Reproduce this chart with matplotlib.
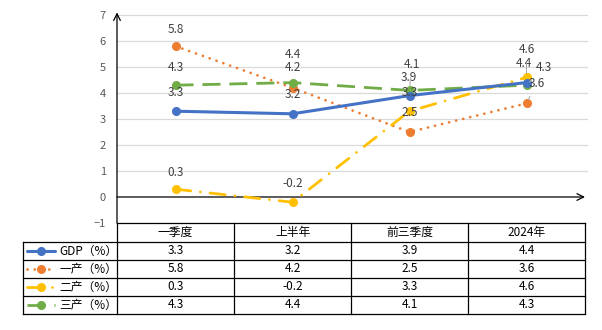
import matplotlib.pyplot as plt
from matplotlib.lines import Line2D

plt.rcParams['font.family'] = ['Noto Sans CJK SC', 'DejaVu Sans']

periods = ['一季度', '上半年', '前三季度', '2024年']
series_names = ['GDP（%）', '一产（%）', '二产（%）', '三产（%）']
gdp = [3.3, 3.2, 3.9, 4.4]
primary = [5.8, 4.2, 2.5, 3.6]
secondary = [0.3, -0.2, 3.3, 4.6]
tertiary = [4.3, 4.4, 4.1, 4.3]

colors = ['#4472C4', '#ED7D31', '#FFC000', '#70AD47']
styles = ['-', (0, (0.01, 2.6)), (0, (5.5, 3.5, 0.01, 3.5)), (0, (6.5, 3.2))]
caps = ['round', 'round', 'round', 'butt']
widths = [2.2, 2.0, 2.0, 2.0]

# label offsets in pixels (dx, dy), and whether a leader line is drawn
offsets = [
    [(0, 19, False), (0, 19, False), (-1, 18, False), (-3, 19, False)],
    [(0, 17, False), (0, 20, False), (0, 20, False), (10, 20, True)],
    [(0, 17, False), (0, 19, False), (0, 19, False), (0, 28, True)],
    [(0, 18, False), (0, 28, False), (2, 26, True), (17, 18, True)],
]

W, H = 602, 330
fig = plt.figure(figsize=(W / 100, H / 100), dpi=100)

x0, x1 = 117, 585
y_top, y_bot = 15, 223
ax = fig.add_axes([x0 / W, 1 - y_bot / H, (x1 - x0) / W, (y_bot - y_top) / H])
ax.set_xlim(-0.5, 3.5)
ax.set_ylim(-1, 7)
for s in ax.spines.values():
    s.set_visible(False)
ax.set_xticks([])
ax.set_yticks(range(-1, 8))
ax.tick_params(axis='y', length=0, labelsize=8, labelcolor='#595959', pad=8)
for v in range(1, 8):
    ax.plot([-0.5, 3.52], [v, v], color='#D9D9D9', lw=0.9, zorder=0, clip_on=False)

# axes with open arrow heads
ax.annotate('', xy=(-0.5, 7.1), xytext=(-0.5, -1), annotation_clip=False,
            arrowprops=dict(arrowstyle='->', color='black', lw=0.9,
                            mutation_scale=12, shrinkA=0, shrinkB=0))
ax.annotate('', xy=(3.5, 0), xytext=(-0.5, 0), annotation_clip=False,
            arrowprops=dict(arrowstyle='->', color='black', lw=0.9,
                            mutation_scale=12, shrinkA=0, shrinkB=0))

xs = list(range(len(periods)))
all_series = [gdp, primary, secondary, tertiary]
for i, vals in enumerate(all_series):
    ax.plot(xs, vals, color=colors[i], linestyle=styles[i], lw=widths[i],
            solid_capstyle='round', dash_capstyle=caps[i],
            marker='o', markersize=5.5, zorder=3 + (i == 0))
    for j, v in enumerate(vals):
        dx, dy, leader = offsets[i][j]
        props = None
        if leader:
            props = dict(arrowstyle='-', color='#A6A6A6', lw=0.7, shrinkA=3, shrinkB=3)
        ax.annotate(f'{v:g}', xy=(j, v), xytext=(dx * 0.72, dy * 0.72),
                    textcoords='offset points', ha='center', va='center',
                    fontsize=8.5, color='#404040', arrowprops=props, zorder=6)

# data table below the plot, drawn in pixel coordinates
tab = fig.add_axes([0, 0, 1, 1])
tab.set_xlim(0, W)
tab.set_ylim(H, 0)
tab.axis('off')
tab.patch.set_alpha(0)

col_w = (x1 - x0) / len(periods)
cols = [x0 + k * col_w for k in range(len(periods) + 1)]
left = 23
rows = [223, 242, 260, 278, 296, 314]
lc = '#000000'
tab.plot([x0, x1], [rows[0], rows[0]], color=lc, lw=0.9)
for r in rows[1:]:
    tab.plot([left, x1], [r, r], color=lc, lw=0.9)
for c in cols:
    tab.plot([c, c], [rows[0], rows[-1]], color=lc, lw=0.9)
tab.plot([left, left], [rows[1], rows[-1]], color=lc, lw=0.9)

for k, p in enumerate(periods):
    tab.text((cols[k] + cols[k + 1]) / 2, (rows[0] + rows[1]) / 2, p,
             ha='center', va='center', fontsize=8.5, color='black')

for i, vals in enumerate(all_series):
    yc = (rows[i + 1] + rows[i + 2]) / 2
    tab.add_line(Line2D([27, 55], [yc, yc], color=colors[i], linestyle=styles[i],
                        lw=widths[i], dash_capstyle=caps[i], solid_capstyle='round'))
    tab.plot([41], [yc], marker='o', markersize=5.5, color=colors[i])
    tab.text(59, yc, series_names[i], ha='left', va='center', fontsize=8.5, color='black')
    for k, v in enumerate(vals):
        tab.text((cols[k] + cols[k + 1]) / 2, yc, f'{v:g}',
                 ha='center', va='center', fontsize=8.5, color='black')

fig.savefig('out.png', dpi=100)
